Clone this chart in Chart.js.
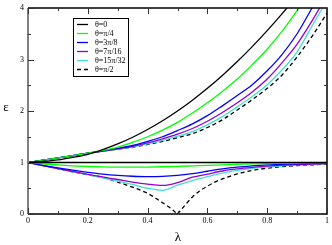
<!DOCTYPE html>
<html>
<head>
<meta charset="utf-8">
<script src="https://cdn.jsdelivr.net/npm/chart.js@4"></script>
<style>
  body { margin: 0; background: #fff; }
  #wrap { width: 332px; height: 245px; }
</style>
</head>
<body>
<div id="wrap"><canvas id="bandChart"></canvas></div>
<script>
// lambda grid, values
const lambdaGrid = [0, 0.05, 0.1, 0.15, 0.2, 0.25, 0.3, 0.35, 0.4, 0.45, 0.5,
  0.55, 0.6, 0.65, 0.7, 0.75, 0.8, 0.85, 0.9, 0.95, 1];

const thetaLabels = ["θ=0", "θ=π/4", "θ=3π/8", "θ=7π/16", "θ=15π/32", "θ=π/2"];

// upper branches
const upperT0 = [1, 1.02, 1.05, 1.1, 1.16, 1.25, 1.36, 1.49, 1.64, 1.81, 2.0, 2.21, 2.44, 2.69, 2.96, 3.25, 3.56, 3.89, 4.24, 4.61, 5.0];
const upperT1 = [1, 1.045, 1.09, 1.135, 1.18, 1.235, 1.3, 1.39, 1.5, 1.63, 1.78, 1.96, 2.16, 2.38, 2.62, 2.9, 3.2, 3.55, 3.95, 4.35, 4.8];
const upperT2 = [1, 1.045, 1.09, 1.135, 1.18, 1.225, 1.275, 1.33, 1.41, 1.5, 1.62, 1.75, 1.91, 2.1, 2.3, 2.51, 2.78, 3.1, 3.5, 4.0, 4.5];
const upperT3 = [1, 1.045, 1.09, 1.135, 1.18, 1.22, 1.265, 1.315, 1.38, 1.46, 1.55, 1.66, 1.8, 1.97, 2.16, 2.37, 2.62, 2.94, 3.3, 3.75, 4.25];
const upperT4 = [1, 1.045, 1.09, 1.135, 1.18, 1.22, 1.26, 1.305, 1.36, 1.43, 1.51, 1.6, 1.73, 1.89, 2.08, 2.28, 2.51, 2.8, 3.15, 3.65, 4.15];
const upperT5 = [1, 1.045, 1.09, 1.135, 1.18, 1.22, 1.26, 1.3, 1.35, 1.41, 1.48, 1.56, 1.68, 1.83, 2.02, 2.22, 2.44, 2.7, 3.05, 3.45, 3.9];

// lower branches
const lowerT0 = [1, 1, 1, 1, 1, 1, 1, 1, 1, 1, 1, 1, 1, 1, 1, 1, 1, 1, 1, 1, 1];
const lowerT1 = [1, 0.975, 0.952, 0.935, 0.922, 0.914, 0.91, 0.91, 0.912, 0.917, 0.925, 0.935, 0.945, 0.955, 0.965, 0.973, 0.98, 0.986, 0.99, 0.994, 0.997];
const lowerT2 = [1, 0.945, 0.895, 0.85, 0.81, 0.775, 0.75, 0.733, 0.725, 0.73, 0.75, 0.785, 0.83, 0.875, 0.91, 0.935, 0.953, 0.965, 0.975, 0.982, 0.987];
const lowerT3 = [1, 0.94, 0.88, 0.825, 0.77, 0.72, 0.67, 0.62, 0.58, 0.555, 0.61, 0.715, 0.775, 0.835, 0.875, 0.905, 0.93, 0.948, 0.96, 0.97, 0.977];
const lowerT4 = [1, 0.94, 0.88, 0.82, 0.765, 0.7, 0.64, 0.575, 0.5, 0.46, 0.56, 0.65, 0.725, 0.795, 0.845, 0.885, 0.915, 0.935, 0.952, 0.963, 0.972];

// theta = pi/2 lower branch has a cusp at 0.5, kept as two pieces
const lambdaDashL = [0, 0.05, 0.1, 0.15, 0.2, 0.25, 0.3, 0.35, 0.4, 0.45, 0.475, 0.5];
const lowerT5L = [1, 0.94, 0.88, 0.82, 0.76, 0.71, 0.62, 0.52, 0.4, 0.22, 0.12, 0];
const lambdaDashR = [0.5, 0.525, 0.55, 0.575, 0.6, 0.625, 0.65, 0.7, 0.75, 0.8, 0.85, 0.9, 0.95, 1];
const lowerT5R = [0, 0.17, 0.33, 0.45, 0.54, 0.62, 0.68, 0.78, 0.845, 0.89, 0.92, 0.94, 0.955, 0.966];

const xTicks = [0, 0.2, 0.4, 0.6, 0.8, 1];
const xTickLabels = ["0", "0.2", "0.4", "0.6", "0.8", "1"];
const xMinor = [0.1, 0.3, 0.5, 0.7, 0.9];
const yTicks = [0, 1, 2, 3, 4];
const yTickLabels = ["0", "1", "2", "3", "4"];
const yMinor = [0.5, 1.5, 2.5, 3.5];

const colors = ["#000000", "#00ff00", "#0000ff", "#9400d3", "#40e0d0", "#000000"];
const SERIF = "'Liberation Serif', 'DejaVu Serif', serif";

const pts = (xs, ys) => xs.map((x, i) => ({ x: x, y: ys[i] }));

function curve(xs, ys, i, label) {
  return {
    label: label,
    data: pts(xs, ys),
    borderColor: colors[i],
    borderWidth: 1.3,
    borderDash: i === 5 ? [4, 3] : [],
    pointRadius: 0,
    cubicInterpolationMode: "monotone",
    inLegend: !!label,
  };
}

const uppers = [upperT0, upperT1, upperT2, upperT3, upperT4, upperT5];
const lowers = [lowerT0, lowerT1, lowerT2, lowerT3, lowerT4];

const datasets = [];
lowers.forEach((ys, i) => datasets.push(curve(lambdaGrid, ys, i, "")));
datasets.push(curve(lambdaDashL, lowerT5L, 5, ""));
datasets.push(curve(lambdaDashR, lowerT5R, 5, ""));
uppers.forEach((ys, i) => datasets.push(curve(lambdaGrid, ys, i, thetaLabels[i])));

// frame with inward ticks on all four sides, axis symbols, legend box
const framePlugin = {
  id: "frame",
  afterDatasetsDraw(chart) {
    const { ctx, chartArea: a, scales: { x, y } } = chart;
    ctx.save();
    ctx.lineWidth = 1.5;
    ctx.strokeStyle = "#000";
    ctx.beginPath();
    ctx.moveTo(a.left, a.bottom); ctx.lineTo(a.right, a.bottom);
    ctx.lineTo(a.right, a.top); ctx.lineTo(a.left, a.top);
    ctx.stroke();
    ctx.strokeStyle = "#808080";
    ctx.lineWidth = 2;
    ctx.beginPath();
    ctx.moveTo(a.left, a.top); ctx.lineTo(a.left, a.bottom);
    ctx.stroke();

    const tick = (v, len, horiz) => {
      if (horiz) {
        const px = Math.round(x.getPixelForValue(v)) + 0.5;
        ctx.moveTo(px, a.bottom); ctx.lineTo(px, a.bottom - len);
        ctx.moveTo(px, a.top); ctx.lineTo(px, a.top + len);
      } else {
        const py = Math.round(y.getPixelForValue(v)) + 0.5;
        ctx.moveTo(a.left, py); ctx.lineTo(a.left + len, py);
        ctx.moveTo(a.right, py); ctx.lineTo(a.right - len, py);
      }
    };
    ctx.strokeStyle = "#333";
    ctx.lineWidth = 1;
    ctx.beginPath();
    xTicks.forEach(v => tick(v, 6, true));
    xMinor.forEach(v => tick(v, 3, true));
    yTicks.forEach(v => tick(v, 6, false));
    yMinor.forEach(v => tick(v, 3, false));
    ctx.stroke();

    ctx.fillStyle = "#000";
    ctx.font = "13px " + SERIF;
    ctx.textAlign = "center";
    ctx.textBaseline = "middle";
    ctx.fillText("ε", 6, 108);
    ctx.fillText("λ", 178, 238);

    // legend
    const lx = 73.5, ly = 18.5, lw = 55, lh = 58;
    ctx.fillStyle = "#fff";
    ctx.fillRect(lx, ly, lw, lh);
    ctx.strokeStyle = "#000";
    ctx.strokeRect(lx, ly, lw, lh);
    ctx.font = "8px " + SERIF;
    ctx.textAlign = "left";
    chart.data.datasets.filter(d => d.inLegend).forEach((d, i) => {
      const yy = 24.5 + i * 9;
      ctx.beginPath();
      ctx.strokeStyle = d.borderColor;
      ctx.lineWidth = 1.3;
      ctx.setLineDash(d.borderDash);
      ctx.moveTo(77, yy); ctx.lineTo(88, yy);
      ctx.stroke();
      ctx.setLineDash([]);
      ctx.fillStyle = "#000";
      ctx.fillText(d.label, 95, yy + 0.5);
    });
    ctx.restore();
  },
};

new Chart(document.getElementById("bandChart"), {
  type: "line",
  data: { datasets: datasets },
  plugins: [framePlugin],
  options: {
    responsive: true,
    maintainAspectRatio: false,
    animation: false,
    layout: { padding: { left: 0, right: 3, top: 4, bottom: 0 } },
    plugins: { legend: { display: false }, tooltip: { enabled: false } },
    scales: {
      x: {
        type: "linear",
        min: 0,
        max: 1,
        grid: { display: false, drawTicks: false },
        border: { display: false },
        afterBuildTicks: s => { s.ticks = xTicks.map(v => ({ value: v })); },
        afterFit: s => { s.height = 31; },
        ticks: {
          padding: 3,
          maxRotation: 0,
          color: "#000",
          font: { family: SERIF, size: 8, lineHeight: 1 },
          callback: (v, i) => xTickLabels[i],
        },
      },
      y: {
        min: 0,
        max: 4,
        grid: { display: false, drawTicks: false },
        border: { display: false },
        afterBuildTicks: s => { s.ticks = yTicks.map(v => ({ value: v })); },
        afterFit: s => { s.width = 28; },
        ticks: {
          padding: 4,
          color: "#000",
          font: { family: SERIF, size: 8, lineHeight: 1 },
          callback: (v, i) => yTickLabels[i],
        },
      },
    },
  },
});
</script>
</body>
</html>
